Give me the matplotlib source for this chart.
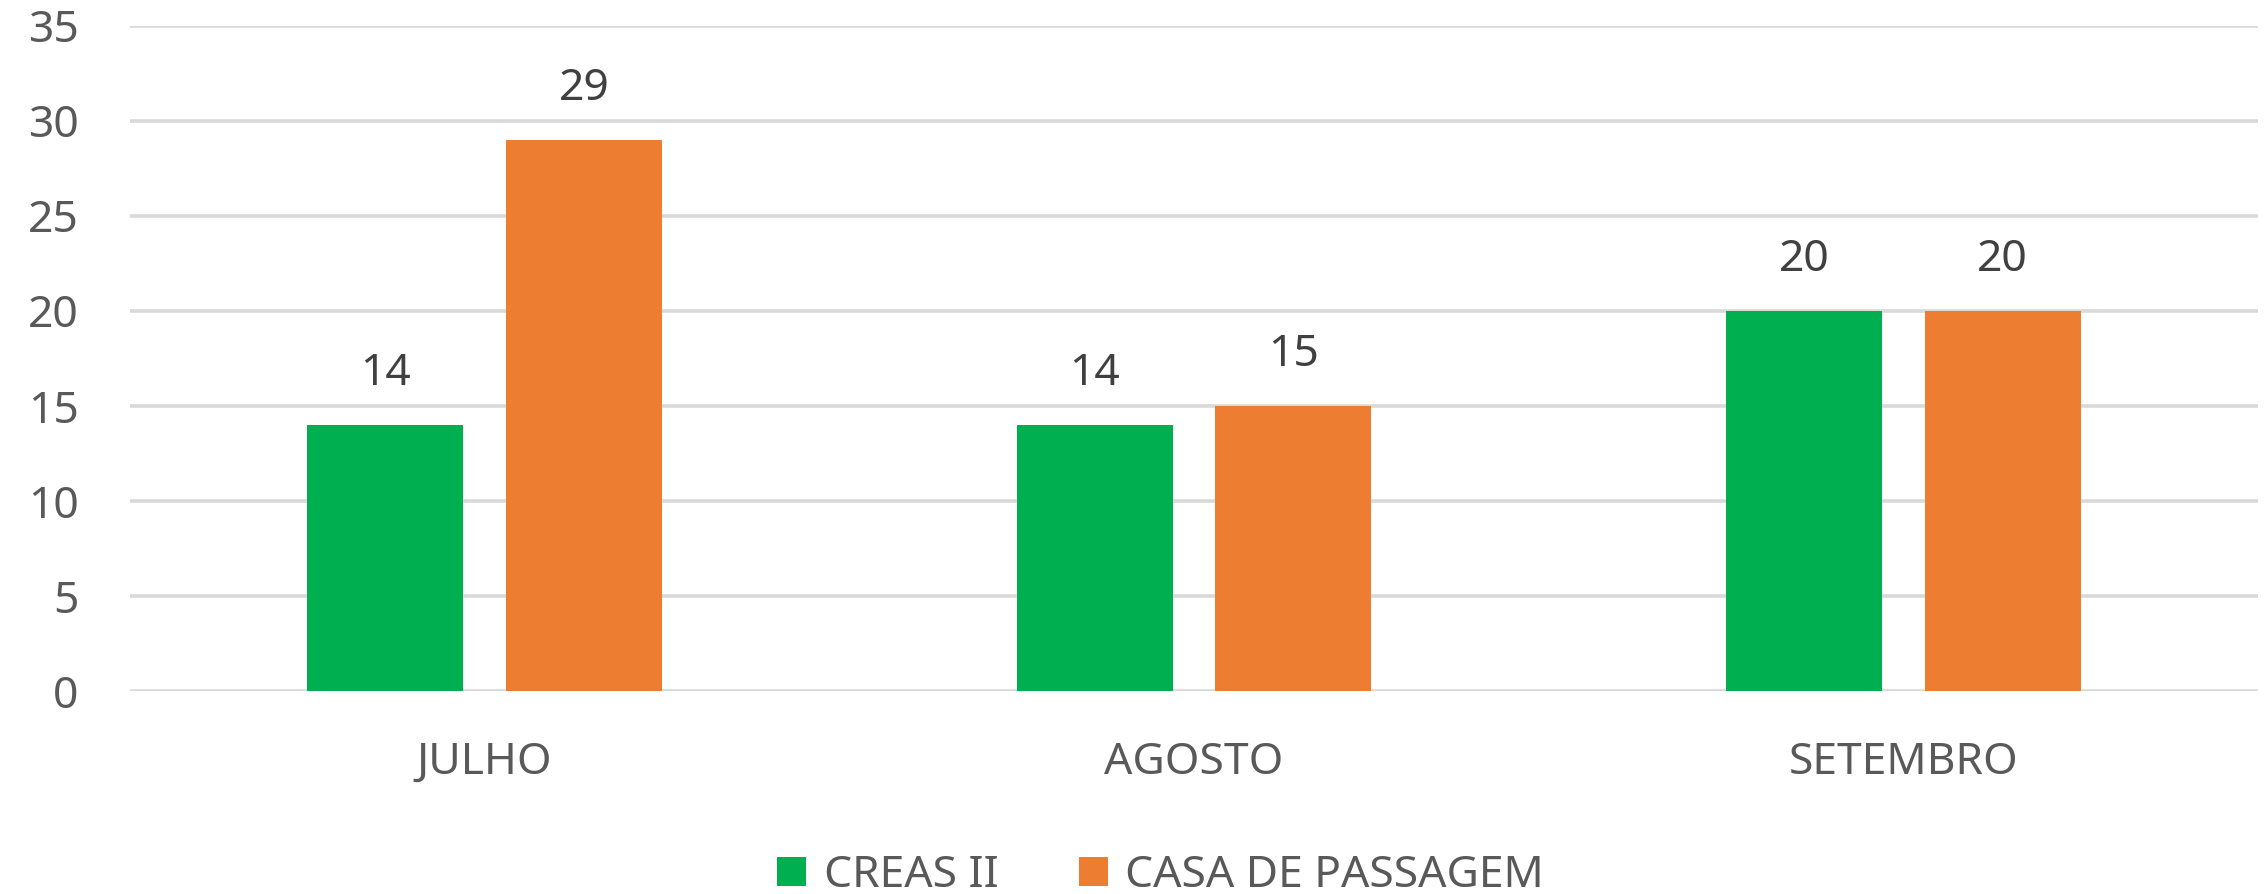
import matplotlib
matplotlib.use("Agg")
import matplotlib.pyplot as plt
import numpy as np

categories = ["JULHO", "AGOSTO", "SETEMBRO"]
series_names = ["CREAS II", "CASA DE PASSAGEM"]
creas = [14, 14, 20]
casa = [29, 15, 20]
colors = ["#00B050", "#ED7D31"]

plt.rcParams['font.family'] = ['Noto Sans', 'DejaVu Sans']

fig = plt.figure(figsize=(22.67, 8.94), dpi=100)
ax = fig.add_axes([0.0573, 0.227, 0.9387, 0.744])

x = np.arange(len(categories))
w = 0.22
off = 0.14
b1 = ax.bar(x - off, creas, w, color=colors[0], label=series_names[0], zorder=3)
b2 = ax.bar(x + off, casa, w, color=colors[1], label=series_names[1], zorder=3)

for bars, vals in ((b1, creas), (b2, casa)):
    for r, v in zip(bars, vals):
        ax.annotate(str(v), (r.get_x() + r.get_width() / 2, v), xytext=(0, 37),
                    textcoords='offset points', ha='center', va='center',
                    fontsize=32, color='#404040')

ax.set_xlim(-0.5, 2.5)
ax.set_ylim(0, 35)
ax.set_yticks(range(0, 36, 5))
ax.yaxis.grid(True, color='#D9D9D9', linewidth=2.6, zorder=0)
ax.set_axisbelow(True)
for s in ax.spines.values():
    s.set_visible(False)
ax.tick_params(axis='both', length=0, labelsize=32, labelcolor='#595959')
ax.tick_params(axis='y', pad=37)
ax.tick_params(axis='x', pad=36)
ax.set_xticks(x)
ax.set_xticklabels(categories)

fig.legend(loc='center', bbox_to_anchor=(0.512, 0.02), ncol=2, frameon=False,
           fontsize=32, labelcolor='#595959', handlelength=0.65, handleheight=0.65,
           handletextpad=0.4, columnspacing=1.8)

fig.savefig("out.png", dpi=100, facecolor='white')
